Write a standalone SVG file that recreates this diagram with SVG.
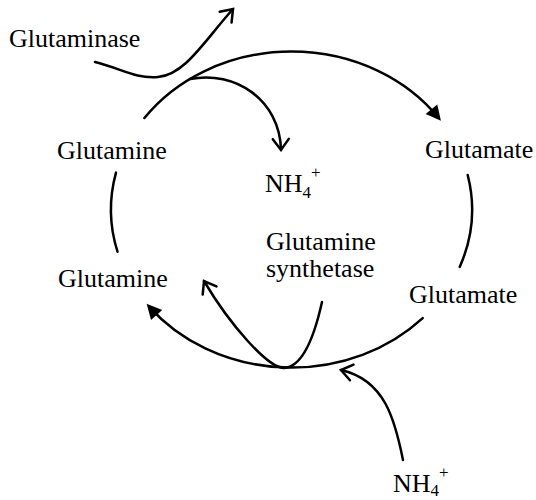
<svg xmlns="http://www.w3.org/2000/svg" width="536" height="500" viewBox="0 0 536 500">
  <style>
    .lbl { font-family: "Liberation Serif", "Times New Roman", serif; font-size: 26px; fill: #000; }
    .sm { font-size: 17px; }
    .ln { fill: none; stroke: #000; stroke-width: 2.5; stroke-linecap: round; }
  </style>
  <defs>
    <marker id="solid" markerUnits="userSpaceOnUse" markerWidth="24" markerHeight="24" viewBox="-14 -12 24 24" refX="0" refY="0" orient="auto">
      <path d="M-11,-7.5 L4,0 L-11,7.5 Z" fill="#000"/>
    </marker>
    <marker id="open" markerUnits="userSpaceOnUse" markerWidth="24" markerHeight="24" viewBox="-14 -12 24 24" refX="0" refY="0" orient="auto">
      <path d="M-11,-8 L0,0 L-11,8" fill="none" stroke="#000" stroke-width="2.5" stroke-linejoin="miter" stroke-linecap="round"/>
    </marker>
  </defs>

  <g id="connectors">
    <path id="arc-top" class="ln" d="M144.4,118 A180.5,158 0 0,1 438.4,117.7" marker-end="url(#solid)"/>
    <path id="arc-right" class="ln" d="M467.7,175 A180.5,158 0 0,1 459.7,266.9"/>
    <path id="arc-bottom" class="ln" d="M422.7,318.1 A180.5,158 0 0,1 149.3,306.8" marker-end="url(#solid)"/>
    <path id="arc-left" class="ln" d="M117.5,251.7 A180.5,158 0 0,1 116,172.6"/>
    <path id="glutaminase-in" class="ln" d="M95,62 C120,68 135,79 158,77 C185,75 205,40 233,9" marker-end="url(#open)"/>
    <path id="nh4-out" class="ln" d="M190,79 C235,70 280,100 281,150" marker-end="url(#open)"/>
    <path id="synthetase" class="ln" d="M322,302 C314,338 302,367 284,368 C268,368 230,325 204,281" marker-end="url(#open)"/>
    <path id="nh4-in" class="ln" d="M403,460 C395,420 385,380 341,370" marker-end="url(#open)"/>
  </g>

  <g id="glutaminase"><text class="lbl" x="9" y="47">Glutaminase</text></g>
  <g id="glutamine-top"><text class="lbl" x="57" y="159">Glutamine</text></g>
  <g id="nh4-top"><text class="lbl" x="265" y="192">NH<tspan class="sm" dy="6">4</tspan><tspan class="sm" dy="-20">+</tspan></text></g>
  <g id="glutamate-top"><text class="lbl" x="425" y="158">Glutamate</text></g>
  <g id="glutamine-synthetase"><text class="lbl" x="266" y="250">Glutamine</text><text class="lbl" x="266" y="277">synthetase</text></g>
  <g id="glutamine-bottom"><text class="lbl" x="58" y="287">Glutamine</text></g>
  <g id="glutamate-bottom"><text class="lbl" x="409" y="303">Glutamate</text></g>
  <g id="nh4-bottom"><text class="lbl" x="393" y="492">NH<tspan class="sm" dy="4">4</tspan><tspan class="sm" dy="-18">+</tspan></text></g>
</svg>
